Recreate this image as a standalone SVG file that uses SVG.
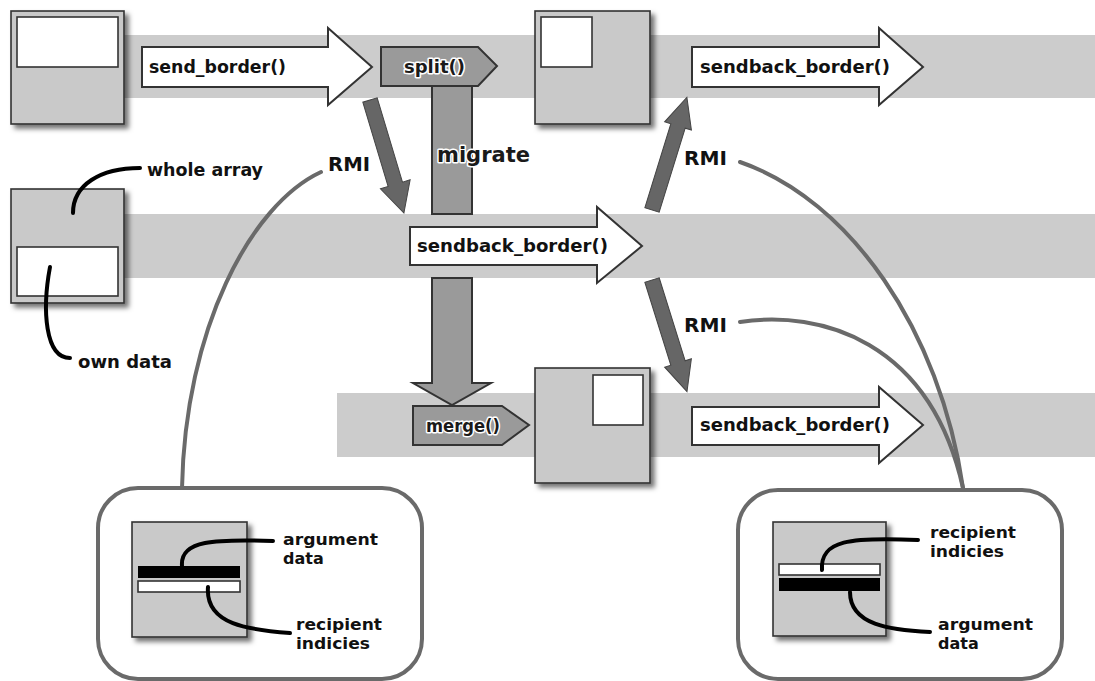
<svg xmlns="http://www.w3.org/2000/svg" width="1095" height="681" viewBox="0 0 1095 681">
<style>
.band{fill:#cccccc}
.box{fill:#c9c9c9;stroke:#333;stroke-width:1.6}
.inner{fill:#fff;stroke:#333;stroke-width:1.6}
.blk{fill:#fff;stroke:#333;stroke-width:2}
.pent{fill:#9a9a9a;stroke:#333;stroke-width:2}
.bar{fill:#9a9a9a;stroke:#333;stroke-width:2}
.rmi{fill:#666;stroke:#444;stroke-width:1}
.gcurve{fill:none;stroke:#6a6a6a;stroke-width:4;stroke-linecap:round}
.lead{fill:none;stroke:#000;stroke-width:4;stroke-linecap:round}
.panel{fill:#fff;stroke:#6a6a6a;stroke-width:4}
text{font-family:"DejaVu Sans","Liberation Sans",sans-serif;font-weight:bold;fill:#111}
.lbl{font-size:17px}
.rmit{font-size:20px}
.halo{fill:#1a1a1a;stroke:#fff;stroke-width:3;paint-order:stroke;stroke-linejoin:round}
.small{font-size:16px}
</style>
<defs>
<filter id="sh" x="-10%" y="-10%" width="130%" height="130%">
<feDropShadow dx="4" dy="4" stdDeviation="2.5" flood-color="#000" flood-opacity="0.55"/>
</filter>
</defs>
<g id="bands">
<rect class="band" x="120" y="35" width="975" height="63"/>
<rect class="band" x="120" y="214" width="975" height="64"/>
<rect class="band" x="337" y="393" width="758" height="64"/>
</g>
<g id="boxA">
<rect class="box" x="11" y="11" width="113" height="113" filter="url(#sh)"/>
<rect class="inner" x="17" y="17" width="101" height="50"/>
</g>
<g id="boxB">
<rect class="box" x="11" y="189" width="113" height="114" filter="url(#sh)"/>
<rect class="inner" x="17" y="247" width="101" height="49"/>
<text class="lbl" x="147" y="176" textLength="116" lengthAdjust="spacingAndGlyphs">whole array</text>
<text class="lbl" x="78" y="368" textLength="94" lengthAdjust="spacingAndGlyphs">own data</text>
</g>
<g id="boxC">
<rect class="box" x="535" y="11" width="115" height="113" filter="url(#sh)"/>
<rect class="inner" x="541" y="17" width="51" height="50"/>
</g>
<g id="boxD">
<rect class="box" x="535" y="368" width="115" height="115" filter="url(#sh)"/>
<rect class="inner" x="593" y="375" width="50" height="50"/>
</g>
<g id="send_border">
<polygon class="blk" points="142,47 328,47 328,28 372,67 328,105 328,87 142,87"/>
<text class="lbl" x="149" y="73" textLength="137" lengthAdjust="spacingAndGlyphs">send_border()</text>
</g>
<g id="split">
<polygon class="pent" points="381,47 478,47 497,66 478,86 381,86"/>
<text class="lbl halo" x="404" y="73" textLength="61" lengthAdjust="spacingAndGlyphs">split()</text>
</g>
<g id="sendback_top">
<polygon class="blk" points="692,47 879,47 879,28 923,67 879,105 879,87 692,87"/>
<text class="lbl" x="700" y="73" textLength="190" lengthAdjust="spacingAndGlyphs">sendback_border()</text>
</g>
<g id="sendback_mid">
<polygon class="blk" points="410,227 597,227 597,207 642,246 597,283 597,265 410,265"/>
<text class="lbl" x="417" y="252" textLength="191" lengthAdjust="spacingAndGlyphs">sendback_border()</text>
</g>
<g id="merge">
<polygon class="pent" points="413,406 502,406 529,425 502,445 413,445"/>
<text class="lbl halo" x="426" y="432" textLength="74" lengthAdjust="spacingAndGlyphs">merge()</text>
</g>
<g id="sendback_bottom">
<polygon class="blk" points="692,407 879,407 879,387 923,425 879,463 879,445 692,445"/>
<text class="lbl" x="700" y="431" textLength="190" lengthAdjust="spacingAndGlyphs">sendback_border()</text>
</g>
<g id="panel_left">
<rect class="panel" x="98" y="488" width="324" height="191" rx="40"/>
<rect class="box" x="132" y="522" width="115" height="115" filter="url(#sh)"/>
<rect x="138" y="566" width="102" height="12" fill="#000"/>
<rect class="inner" x="138" y="581" width="102" height="11"/>
<text class="small" x="283" y="545" textLength="95" lengthAdjust="spacingAndGlyphs">argument</text>
<text class="small" x="283" y="564">data</text>
<text class="small" x="296" y="630" textLength="86" lengthAdjust="spacingAndGlyphs">recipient</text>
<text class="small" x="296" y="649" textLength="74" lengthAdjust="spacingAndGlyphs">indicies</text>
</g>
<g id="panel_right">
<rect class="panel" x="738" y="490" width="324" height="189" rx="40"/>
<rect class="box" x="773" y="522" width="113" height="114" filter="url(#sh)"/>
<rect class="inner" x="779" y="564" width="101" height="11"/>
<rect x="779" y="578" width="101" height="13" fill="#000"/>
<text class="small" x="930" y="538" textLength="86" lengthAdjust="spacingAndGlyphs">recipient</text>
<text class="small" x="930" y="557" textLength="74" lengthAdjust="spacingAndGlyphs">indicies</text>
<text class="small" x="938" y="630" textLength="95" lengthAdjust="spacingAndGlyphs">argument</text>
<text class="small" x="938" y="649">data</text>
</g>
<g id="connectors">
<polygon class="bar" points="432,86 472,86 472,214 432,214"/>
<polygon class="bar" points="432,278 472,278 472,383 491,383 452,405 413,383 432,383"/>
<text class="halo" x="437" y="162" font-size="21" textLength="93" lengthAdjust="spacingAndGlyphs">migrate</text>
<g transform="translate(370,100) rotate(73.3)"><polygon class="rmi" points="0,-7.5 88,-7.5 88,-15.5 118,0 88,15.5 88,7.5 0,7.5"/></g>
<g transform="translate(652,210) rotate(-72.8)"><polygon class="rmi" points="0,-7.5 88,-7.5 88,-14 118,0 88,14 88,7.5 0,7.5"/></g>
<g transform="translate(652,280) rotate(72.6)"><polygon class="rmi" points="0,-7.5 87,-7.5 87,-14 117,0 87,14 87,7.5 0,7.5"/></g>
<text class="rmit" x="328" y="171" textLength="42" lengthAdjust="spacingAndGlyphs">RMI</text>
<text class="rmit" x="684" y="165" textLength="43" lengthAdjust="spacingAndGlyphs">RMI</text>
<text class="rmit" x="684" y="332" textLength="43" lengthAdjust="spacingAndGlyphs">RMI</text>
<path class="gcurve" d="M321,172 C250,205 185,330 182,488"/>
<path class="gcurve" d="M740,162 C850,200 940,330 963,488"/>
<path class="gcurve" d="M740,322 C820,310 930,340 963,488"/>
<path class="lead" d="M73,213 C73,185 100,168 140,168"/>
<path class="lead" d="M50,267 C42,310 45,358 70,358"/>
<path class="lead" d="M182,566 C180,540 215,539 273,541"/>
<path class="lead" d="M208,587 C205,625 250,630 290,633"/>
<path class="lead" d="M822,570 C820,540 850,537 918,540"/>
<path class="lead" d="M850,592 C850,625 890,630 930,632"/>
</g>
</svg>
